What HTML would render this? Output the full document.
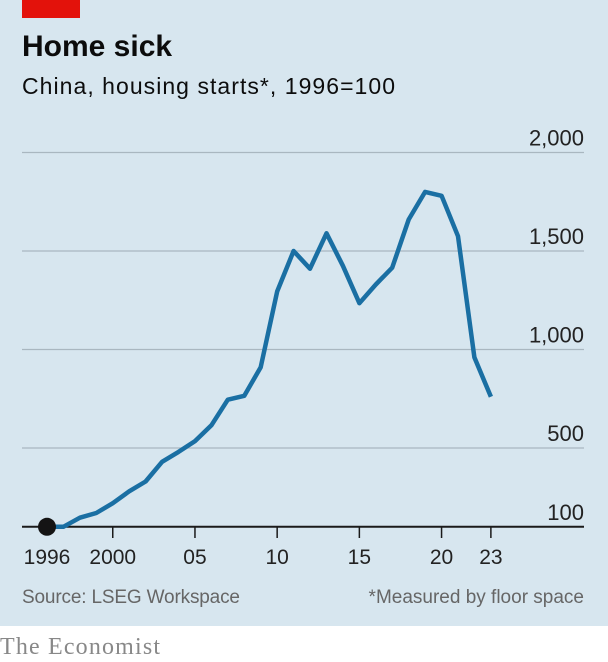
<!DOCTYPE html>
<html><head><meta charset="utf-8"><style>
html,body{margin:0;padding:0;width:608px;height:662px;overflow:hidden;background:#fff}
svg{display:block}
text{font-family:"Liberation Sans",sans-serif}
</style></head><body>
<svg width="608" height="662">
<rect x="0" y="0" width="608" height="626" fill="#d7e6ef"/>
<rect x="22" y="0" width="58" height="18" fill="#e3120b"/>
<text x="22" y="56" font-size="30" font-weight="bold" fill="#0c0c0c">Home sick</text>
<text x="22" y="94" font-size="23" fill="#0c0c0c" textLength="373">China, housing starts*, 1996=100</text>
<g id="grid"></g>
<g id="xaxis"></g>
<path id="line" fill="none" stroke="#1a6fa3" stroke-width="4.5" stroke-linejoin="round"/>
<circle id="dot" r="9" fill="#141414"/>
<text x="22" y="603" font-size="19" fill="#666" textLength="218">Source: LSEG Workspace</text>
<text x="584" y="603" font-size="19" fill="#666" text-anchor="end">*Measured by floor space</text>
<text x="0" y="654" font-size="24" fill="#888" textLength="160" style="font-family:'Liberation Serif',serif">The Economist</text>
</svg>
<script>
const years=[1996,1997,1998,1999,2000,2001,2002,2003,2004,2005,2006,2007,2008,2009,2010,2011,2012,2013,2014,2015,2016,2017,2018,2019,2020,2021,2022,2023];
const values=[100,100,146,170,220,280,330,430,480,535,615,745,765,910,1295,1500,1410,1590,1425,1235,1330,1415,1660,1800,1780,1575,960,760];
const yTicks=[100,500,1000,1500,2000];
const yTickLabels=["100","500","1,000","1,500","2,000"];
const xTicks=[1996,2000,2005,2010,2015,2020,2023];
const xTickLabels=["1996","2000","05","10","15","20","23"];
const ns="http://www.w3.org/2000/svg";
const x=v=>47+(v-1996)*16.44;
const y=v=>546.5-v*0.197;
const grid=document.getElementById('grid'),xa=document.getElementById('xaxis');
yTicks.forEach((t,i)=>{
 const l=document.createElementNS(ns,'line');
 
 
 l.setAttribute('x1',22);l.setAttribute('x2',584);l.setAttribute('y1',y(t));l.setAttribute('y2',y(t));
 l.setAttribute('stroke',t===100?'#1a1a1a':'#a9b7c0');l.setAttribute('stroke-width',t===100?2:1.3);
 grid.appendChild(l);
 const tx=document.createElementNS(ns,'text');
 
 
 tx.setAttribute('x',584);tx.setAttribute('y',y(t)-7);tx.setAttribute('text-anchor','end');
 tx.setAttribute('font-size','22');tx.setAttribute('fill','#222');tx.textContent=yTickLabels[i];
 grid.appendChild(tx);
});
xTicks.forEach((t,i)=>{
 if(t!==1996){const l=document.createElementNS(ns,'line');
 
 
 l.setAttribute('x1',x(t));l.setAttribute('x2',x(t));l.setAttribute('y1',527);l.setAttribute('y2',538);
 l.setAttribute('stroke','#1a1a1a');l.setAttribute('stroke-width',1.5);xa.appendChild(l);}
 const tx=document.createElementNS(ns,'text');
 
 
 tx.setAttribute('x',x(t));tx.setAttribute('y',564);tx.setAttribute('text-anchor','middle');
 tx.setAttribute('font-size','21');tx.setAttribute('fill','#222');tx.textContent=xTickLabels[i];
 xa.appendChild(tx);
});
document.getElementById('line').setAttribute('d',years.map((yr,i)=>(i?'L':'M')+x(yr).toFixed(1)+','+y(values[i]).toFixed(1)).join(''));
const d=document.getElementById('dot');d.setAttribute('cx',x(years[0]));d.setAttribute('cy',y(values[0]));
</script>
</body></html>
